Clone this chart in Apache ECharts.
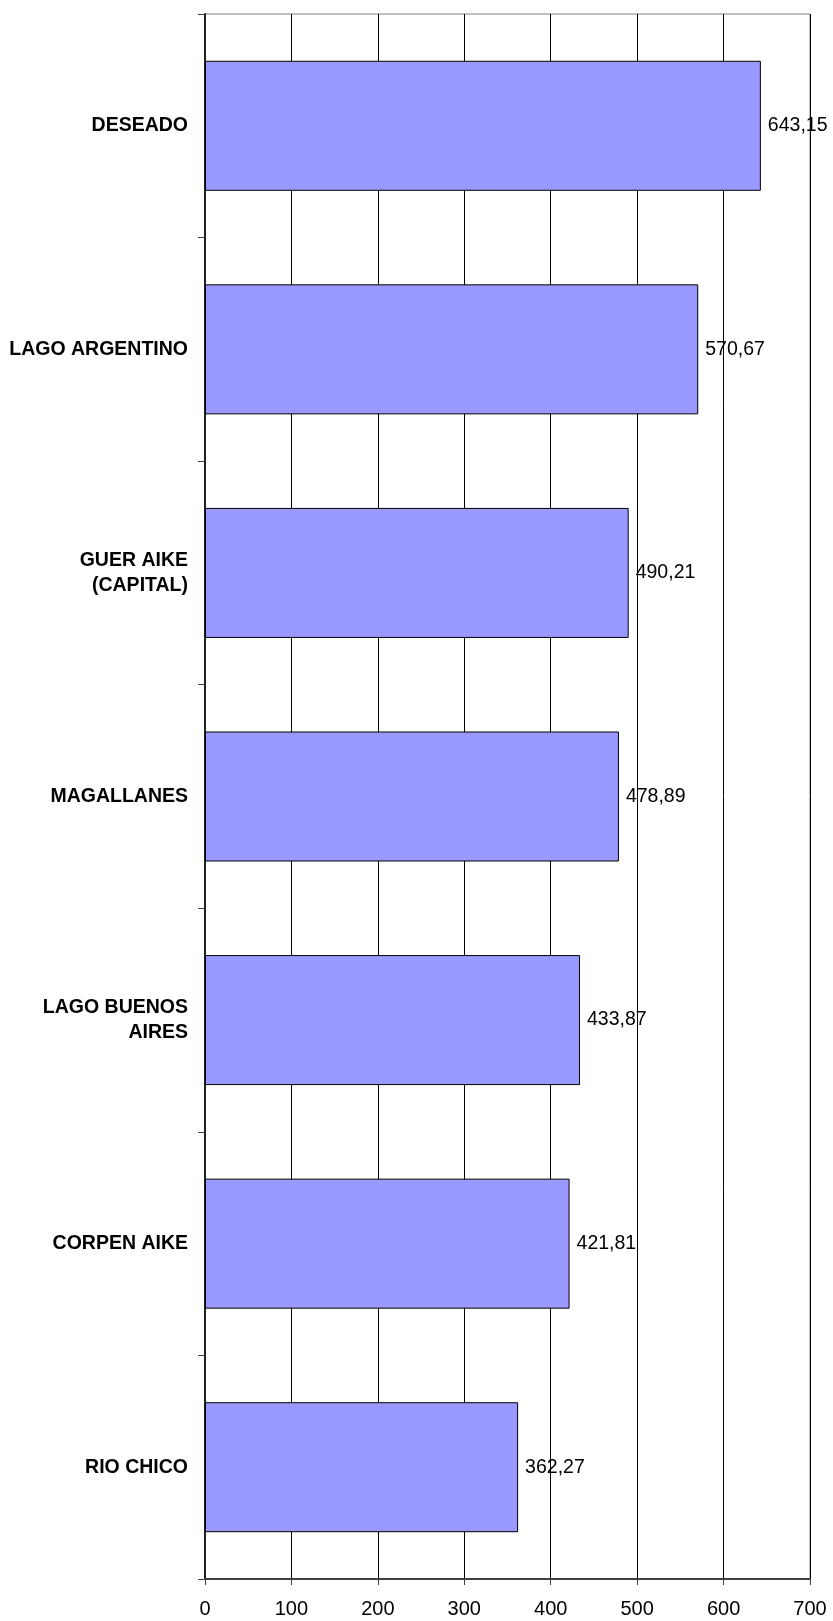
<!DOCTYPE html>
<html>
<head>
<meta charset="utf-8">
<script src="https://cdn.jsdelivr.net/npm/echarts@6/dist/echarts.min.js"></script>
<style>
html,body{margin:0;padding:0;background:#fff;}
#chart{width:833px;height:1621px;}
</style>
</head>
<body>
<div id="chart"></div>
<script>
var categories = ['DESEADO', 'LAGO ARGENTINO', 'GUER AIKE\n(CAPITAL)', 'MAGALLANES', 'LAGO BUENOS\nAIRES', 'CORPEN AIKE', 'RIO CHICO'];
var values = [643.15, 570.67, 490.21, 478.89, 433.87, 421.81, 362.27];
var xTicks = { min: 0, max: 700, interval: 100 };

var chart = echarts.init(document.getElementById('chart'));
chart.setOption({
  animation: false,
  backgroundColor: '#ffffff',
  grid: { left: 205, right: 23, top: 14, bottom: 42, show: true, borderColor: '#808080', borderWidth: 1, containLabel: false },
  xAxis: {
    type: 'value',
    min: xTicks.min, max: xTicks.max, interval: xTicks.interval,
    axisLine: { show: true, lineStyle: { color: '#404040', width: 2 } },
    axisTick: { show: true, length: 6, lineStyle: { color: '#404040' } },
    axisLabel: { color: '#000', fontFamily: 'Liberation Sans, Arial', fontSize: 20, margin: 20 },
    splitLine: { show: true, lineStyle: { color: '#000', width: 1 } }
  },
  yAxis: {
    type: 'category',
    inverse: true,
    data: categories,
    axisLine: { show: true, lineStyle: { color: '#202020', width: 2 } },
    axisTick: { show: true, length: 7, lineStyle: { color: '#404040' } },
    axisLabel: { color: '#000', fontFamily: 'Liberation Sans, Arial', fontSize: 19.5, fontWeight: 'bold', lineHeight: 25, margin: 17, align: 'right' },
    splitLine: { show: false }
  },
  series: [{
    type: 'bar',
    data: values,
    barWidth: 130,
    itemStyle: { color: '#9999FF', borderColor: '#000', borderWidth: 1 },
    label: {
      show: true, position: 'right', distance: 7,
      color: '#000', fontFamily: 'Liberation Sans, Arial', fontSize: 19.5,
      formatter: function (p) { return p.value.toFixed(2).replace('.', ','); }
    }
  }]
});
</script>
</body>
</html>
